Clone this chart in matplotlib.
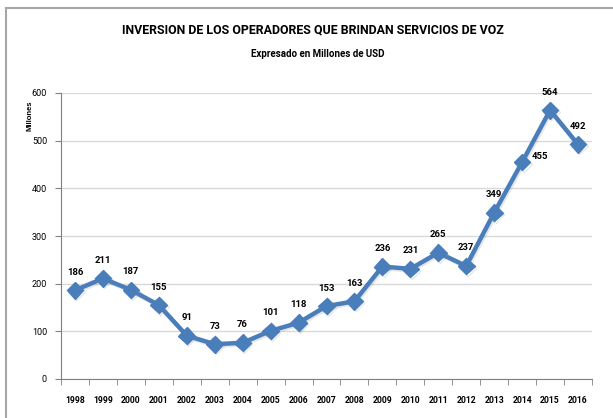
import matplotlib
matplotlib.use("Agg")
import matplotlib.pyplot as plt
import matplotlib.patheffects as pe
from matplotlib.lines import Line2D

years = ["1998", "1999", "2000", "2001", "2002", "2003", "2004", "2005", "2006", "2007",
         "2008", "2009", "2010", "2011", "2012", "2013", "2014", "2015", "2016"]
values = [186, 211, 187, 155, 91, 73, 76, 101, 118, 153, 163, 236, 231, 265, 237, 349, 455, 564, 492]
yticks = [0, 100, 200, 300, 400, 500, 600]

title = "INVERSION DE LOS OPERADORES QUE BRINDAN SERVICIOS DE VOZ"
subtitle = "Expresado en Millones de USD"
ylabel = "Millones"

FONT = ["Roboto", "DejaVu Sans"]
LINE = "#4a7ebb"

fig = plt.figure(figsize=(6.13, 4.18), dpi=100)
ax = fig.add_axes([61/613, 1-379/418, (592-61)/613, (379-93)/418])

x = list(range(len(years)))
ax.plot(x, values, color=LINE, lw=3.2, marker="D", markersize=8.5,
        markerfacecolor=LINE, markeredgecolor=LINE, zorder=3,
        path_effects=[pe.SimpleLineShadow(offset=(1, -1.2), shadow_color="#888888", alpha=0.2), pe.Normal()])

ax.set_xlim(-0.5, len(years) - 0.5)
ax.set_ylim(0, 600)
ax.set_yticks(yticks)
ax.set_yticklabels([str(t) for t in yticks], fontfamily=FONT, fontsize=6.5)
ax.set_xticks(x)
ax.set_xticklabels(years, fontfamily=FONT, fontsize=6.2, fontweight="bold")
ax.xaxis.set_minor_locator(matplotlib.ticker.FixedLocator([i - 0.5 for i in range(len(years) + 1)]))
ax.tick_params(axis="x", which="major", length=0, pad=12)
ax.tick_params(axis="x", which="minor", length=4, color="#808080", direction="out")
ax.tick_params(axis="y", length=4, color="#808080", direction="out", pad=6)

ax.grid(axis="y", color="#d9d9d9", lw=1)
ax.set_axisbelow(True)
for s in ["top", "right"]:
    ax.spines[s].set_visible(False)
ax.spines["left"].set_color("#808080")
ax.spines["bottom"].set_color("#808080")

offsets = {16: (13, 4)}
for i, v in enumerate(values):
    dx, dy = offsets.get(i, (0, 13))
    ax.annotate(str(v), (i, v), xytext=(dx, dy), textcoords="offset points",
                ha="center", va="center", fontfamily=FONT, fontsize=6.8, fontweight="bold")

fig.text(313/613, 1-30/418, title, ha="center", va="center", fontfamily=FONT,
         fontsize=8.9, fontweight="bold")
fig.text(318/613, 1-54/418, subtitle, ha="center", va="center", fontfamily=FONT,
         fontsize=7, fontweight="bold")
fig.text(30/613, 1-116/418, ylabel, ha="center", va="center", rotation=90,
         fontfamily=["Liberation Sans", "DejaVu Sans"], fontsize=5.5, fontweight="bold")

# chart frame (top and left edges visible)
fig.add_artist(Line2D([6/613, 1], [1-8/418, 1-8/418], color="#a6a6a6", lw=1.5, transform=fig.transFigure))
fig.add_artist(Line2D([6/613, 6/613], [0, 1-8/418], color="#a6a6a6", lw=1.5, transform=fig.transFigure))

fig.savefig("out.png", dpi=100)
